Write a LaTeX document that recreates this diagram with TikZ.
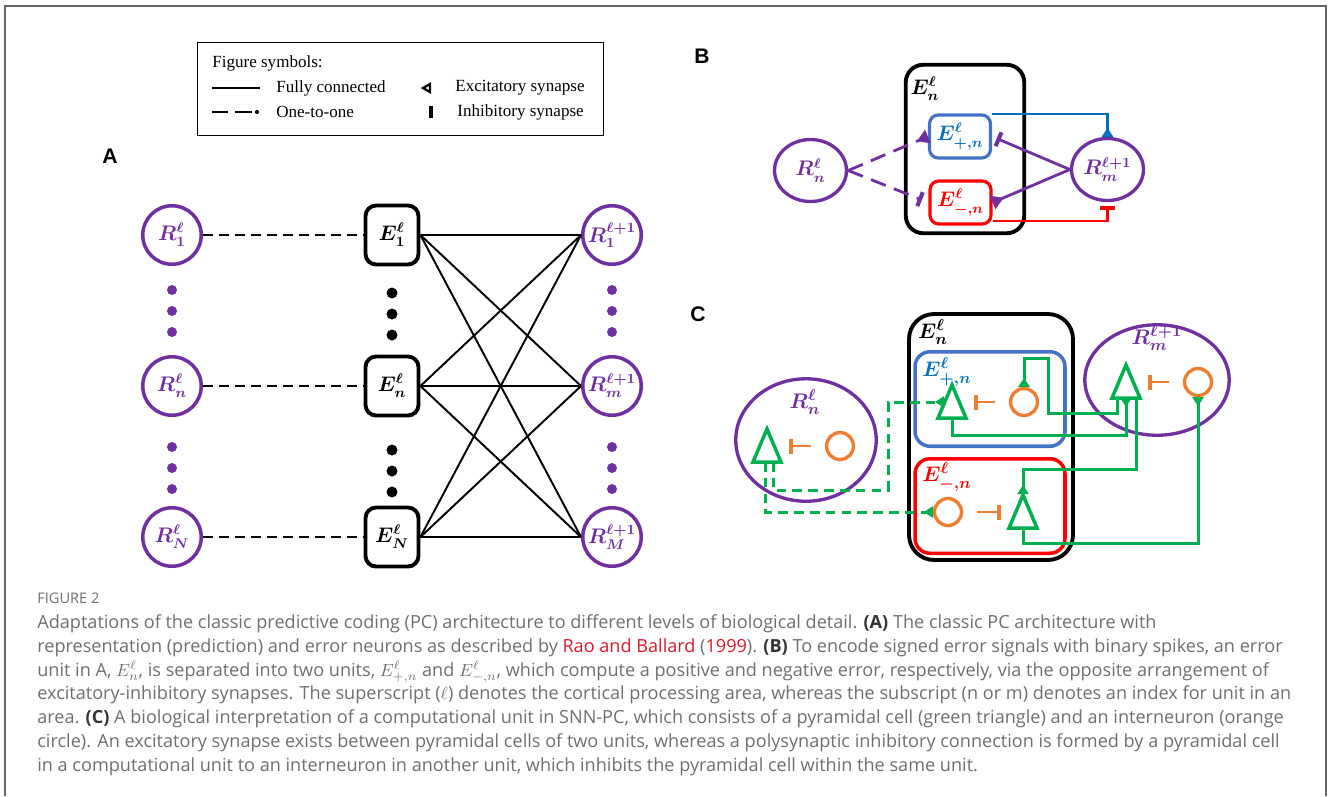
\documentclass[tikz,border=0pt]{standalone}
\usepackage[no-math]{fontspec}
\setmainfont{Liberation Serif}
\newfontfamily\capfont{Open Sans}
\newfontfamily\panelfont{Liberation Sans}
\usepackage{amsmath}
\usetikzlibrary{arrows.meta,positioning,shapes.geometric,calc}
\definecolor{rpurple}{RGB}{112,48,160}
\definecolor{eblue}{RGB}{68,114,196}
\definecolor{lblue}{RGB}{0,112,192}
\definecolor{ered}{RGB}{255,0,0}
\definecolor{pgreen}{RGB}{0,176,80}
\definecolor{iorange}{RGB}{237,125,49}
\definecolor{capgray}{RGB}{110,110,110}
\definecolor{citered}{RGB}{215,25,45}
\newcommand{\lblA}{\boldmath\fontsize{12}{14}\selectfont}
\newcommand{\lblB}{\boldmath\fontsize{11.5}{13}\selectfont}
\tikzset{
  frame/.style={draw=black!60,line width=0.8pt},
  panel/.style={font=\panelfont\bfseries\fontsize{12}{14}\selectfont},
  legbox/.style={draw,line width=0.9pt,minimum width=8.12cm,minimum height=1.86cm},
  legtxt/.style={font=\fontsize{9.7}{12}\selectfont,inner sep=0pt,anchor=west},
  rnode/.style={circle,draw=rpurple,line width=2pt,minimum size=1.17cm,inner sep=0pt,
    text=rpurple,font=\lblA},
  ebox/.style={draw,line width=2.2pt,rounded corners=6pt,minimum width=1.06cm,
    minimum height=1.18cm,inner sep=0pt,font=\lblA},
  one2one/.style={line width=1.4pt,dash pattern=on 5.5pt off 3.6pt},
  full/.style={line width=1.1pt},
  outerbox/.style={draw,line width=2.2pt,inner sep=0pt},
  errbox/.style={draw=#1,line width=1.8pt,rounded corners=5pt,inner sep=0pt,
    minimum width=1.22cm,minimum height=0.86cm,font=\lblB},
  subbox/.style={draw=#1,line width=2pt,rounded corners=0.3cm,inner sep=0pt,
    minimum width=3.0cm,minimum height=1.89cm},
  cell/.style={ellipse,draw=rpurple,line width=1.9pt,inner sep=0pt,text=rpurple},
  lbl/.style={font=\boldmath\fontsize{12.5}{14}\selectfont,inner sep=0pt},
  inter/.style={circle,draw=iorange,line width=1.9pt,minimum size=0.54cm,inner sep=0pt},
  exc/.style={-{Triangle[reversed,length=0.18cm,width=0.22cm]}},
  excbig/.style={-{Triangle[reversed,length=0.24cm,width=0.28cm]}},
  inh/.style={-{Bar[width=0.3cm,line width=2.3pt]}},
  pline/.style={draw=rpurple,line width=1.6pt},
  pdash/.style={pline,dash pattern=on 9pt off 5pt},
  gline/.style={draw=pgreen,line width=1.7pt},
  gdash/.style={gline,dash pattern=on 5.5pt off 3.5pt},
  ibar/.style={draw=iorange,line width=1.5pt,inh,shorten <=0.28cm,shorten >=0.44cm},
  captxt/.style={font=\capfont\fontsize{10.3}{13.6}\selectfont,text=capgray,align=left,inner sep=0pt},
  capfig/.style={font=\capfont\fontsize{8.3}{10}\selectfont,text=capgray,inner sep=0pt},
  % pyramidal cell
  pics/pyr/.style={code={
    \draw[pgreen,line width=2pt] (-14,16) -- (0,-17) -- (14,16) -- cycle;
    \coordinate (-c) at (0,0);
    \coordinate (-a) at (0,-18);
    \coordinate (-b) at (0,16);
    \coordinate (-bl) at (-9,16);
    \coordinate (-br) at (10,16);
    \coordinate (-l) at (-8,0);
  }},
}
\begin{document}
\begin{tikzpicture}[x=0.02cm,y=-0.02cm]
\useasboundingbox (0,0) rectangle (1328,796);
\draw[frame] (5,796) -- (5,6) -- (1326,6) -- (1326,796);

% legend
\node[legbox] (leg) at (400.5,89) {};
\node[legtxt] (legt) at (212,63) {Figure symbols:};
\draw[line width=1.2pt] (212,88) -- (260,88);
\node[legtxt] (legfc) at (276,88) {Fully connected};
\draw[line width=1.2pt] (212,112) -- (228,112) (235,112) -- (252,112);
\fill (257,112) circle (1.2pt);
\node[legtxt] (legoo) at (276,112) {One-to-one};
\draw[line width=1.3pt,fill=white] (430,84) -- (423,88) -- (430,92) -- cycle;
\node[legtxt] (legex) at (455,88) {Excitatory synapse};
\draw[line width=2.3pt] (431,106) -- (431,118);
\node[legtxt] (legin) at (457,112) {Inhibitory synapse};

% A
\node[panel] (pa) at (110,156) {A};
\foreach \k/\y/\s/\t in {1/235/1/1,n/386/n/m,N/537/N/M}{
  \node[rnode] (r\k) at (172,\y) {$R^{\ell}_{\s}$};
  \node[ebox] (e\k) at (392,\y) {$E^{\ell}_{\s}$};
  \node[rnode] (q\k) at (612,\y) {$R^{\ell+1}_{\t}$};
  \draw[one2one] (r\k) -- (e\k);
}
\foreach \a in {1,n,N}
  \foreach \b in {1,n,N}
    \draw[full] (e\a.east) -- (q\b.west);
\foreach \y in {290,311,332,447,468,489}{
  \fill[rpurple] (172,\y) circle (0.1cm);
  \fill[rpurple] (612,\y) circle (0.1cm);
  \fill (392,\y+3) circle (0.11cm);
}

% B
\node[panel] (pb) at (702,56) {B};
\node[outerbox,minimum width=2.37cm,minimum height=3.37cm,rounded corners=0.35cm] (bbox) at (965,149) {};
\node[lbl,font=\lblB] (bEn) at (925,89) {$E^{\ell}_{n}$};
\node[errbox=eblue,text=lblue] (bp) at (960,136.5) {$E^{\ell}_{+,n}$};
\node[errbox=ered,text=ered] (bm) at (960.5,202.5) {$E^{\ell}_{-,n}$};
\node[cell,minimum width=1.44cm,minimum height=1.24cm,font=\lblB] (bRn) at (810.5,170.5) {$R^{\ell}_{n}$};
\node[cell,minimum width=1.44cm,minimum height=1.24cm,font=\lblB] (bRm) at (1107.5,169.5) {$R^{\ell+1}_{m}$};
\draw[pdash,excbig] (bRn.east) -- (bp.west);
\draw[pdash,inh,shorten >=0.14cm] (bRn.east) -- (bm.west);
\draw[pline,inh,shorten >=0.1cm] (bRm.west) -- (bp.east);
\draw[pline,excbig] (bRm.west) -- (bm.east);
\draw[draw=lblue,line width=1.6pt,exc] (bp.35) -| (bRm.north);
\draw[draw=ered,line width=1.6pt,inh,shorten >=0.08cm] (bm.-30) -| (bRm.south);

% C
\node[panel] (pc) at (698,314) {C};
\node[outerbox,minimum width=3.28cm,minimum height=4.92cm,rounded corners=0.5cm] (cbox) at (991,437) {};
\node[subbox=eblue] (cpbox) at (990,399) {};
\node[subbox=ered] (cmbox) at (990,506) {};
\node[cell,minimum width=2.81cm,minimum height=2.45cm] (cRn) at (806,440) {};
\node[cell,minimum width=2.89cm,minimum height=2.21cm] (cRm) at (1157,380) {};
\node[lbl] (cEn) at (933,332) {$E^{\ell}_{n}$};
\node[lbl,text=lblue] (cEp) at (947,372) {$E^{\ell}_{+,n}$};
\node[lbl,text=ered] (cEm) at (947,477) {$E^{\ell}_{-,n}$};
\node[lbl,text=rpurple] (cRnl) at (805,402) {$R^{\ell}_{n}$};
\node[lbl,text=rpurple] (cRml) at (1157,338) {$R^{\ell+1}_{m}$};
\foreach \c/\x/\y/\d in {n/767/446/73,p/952/402/72,q/1126/382/72,m/1023/512/-75}{
  \pic (t\c) at (\x,\y) {pyr};
  \node[inter] (c\c) at (\x+\d,\y) {};
  \draw[ibar] (c\c) -- (t\c-c);
}
\draw[gline,exc] (tq-bl) |- (1048,413) -- (1048,358) -| (cp.north);
\draw[gline,exc] (tp-b) -- ++(0,17) -| (tq-b);
\draw[gline,exc] (tq-br) |- ([yshift=0.5cm]tm-a) -- (tm-a);
\draw[gline,exc] (tm-b) -- ++(0,15) -| (cq.south);
\draw[gdash,exc] ([xshift=0.12cm]tn-b) |- (888,490) |- (tp-l);
\draw[gdash,exc] ([xshift=-0.04cm]tn-b) |- (cm.west);

% caption
\node[capfig,anchor=west] (fig) at (37,598) {FIGURE 2};
\node[captxt,anchor=north west] (cap) at (37,614) {Adaptations of the classic predictive coding (PC) architecture to different levels of biological detail. \textcolor{black!80}{\textbf{(A)}} The classic PC architecture with\\
representation (prediction) and error neurons as described by \textcolor{citered}{Rao and Ballard} (\textcolor{citered}{1999}). \textcolor{black!80}{\textbf{(B)}} To encode signed error signals with binary spikes, an error\\
unit in A, $E^{\ell}_{n}$, is separated into two units, $E^{\ell}_{+,n}$ and $E^{\ell}_{-,n}$, which compute a positive and negative error, respectively, via the opposite arrangement of\\
excitatory-inhibitory synapses. The superscript ($\ell$) denotes the cortical processing area, whereas the subscript (n or m) denotes an index for unit in an\\
area. \textcolor{black!80}{\textbf{(C)}} A biological interpretation of a computational unit in SNN-PC, which consists of a pyramidal cell (green triangle) and an interneuron (orange\\
circle). An excitatory synapse exists between pyramidal cells of two units, whereas a polysynaptic inhibitory connection is formed by a pyramidal cell\\
in a computational unit to an interneuron in another unit, which inhibits the pyramidal cell within the same unit.};
\end{tikzpicture}
\end{document}
